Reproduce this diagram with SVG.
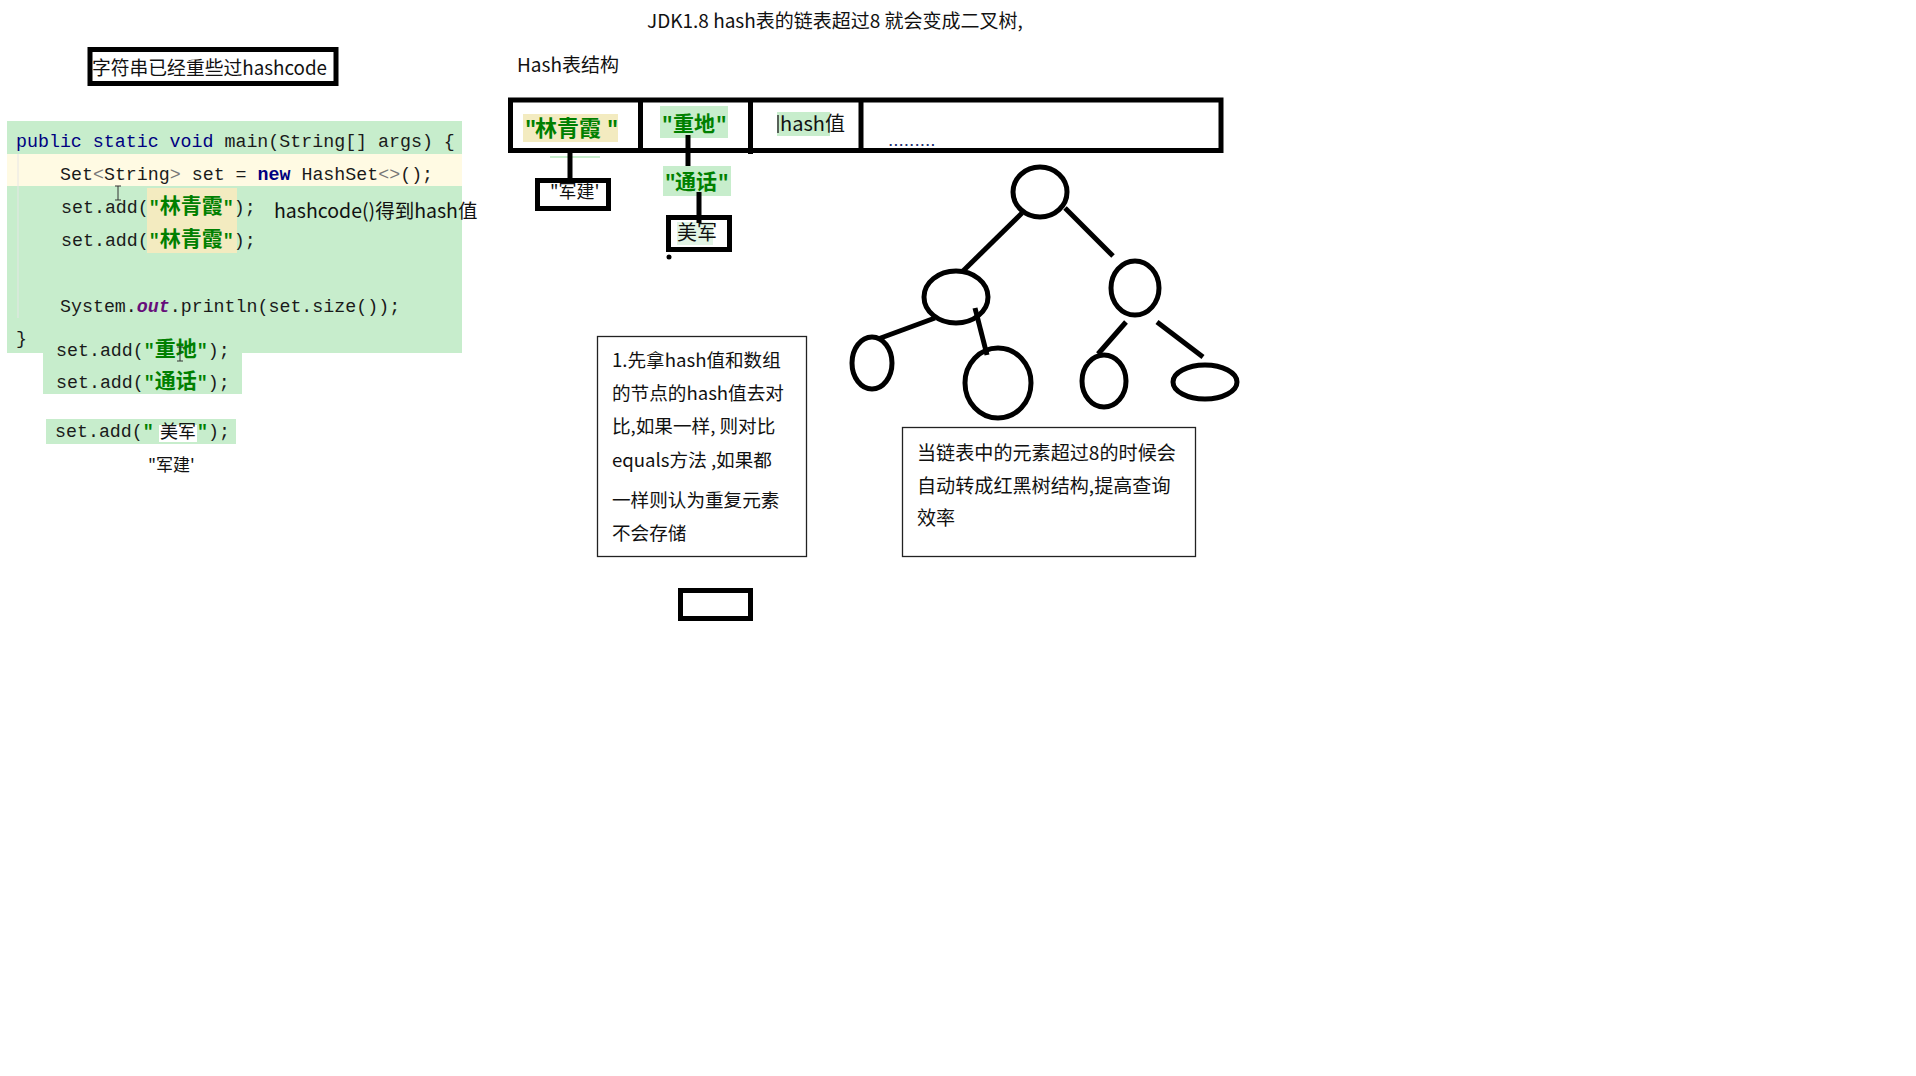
<svg xmlns="http://www.w3.org/2000/svg" width="1916" height="1076" viewBox="0 0 1916 1076">
<style>
.ui{font-family:'Noto Sans CJK SC','Liberation Sans',sans-serif;fill:#111}
.code{font-family:'Liberation Mono','Noto Sans CJK SC',monospace;font-size:18.3px;fill:#1a1a1a}
.kw{fill:#000080}
.kwb{fill:#000080;font-weight:bold}
.str{fill:#008000;font-weight:bold}
.cjk{font-family:'Noto Sans CJK SC',sans-serif;font-size:21px}
.thick{fill:none;stroke:#000;stroke-width:5}
.thin{fill:none;stroke:#222;stroke-width:1.3}
.tree{fill:none;stroke:#000;stroke-width:5}
.gbg{fill:#C7EDCC}
</style>
<rect width="1916" height="1076" fill="#fff"/>

<g id="title">
<text class="ui" x="647" y="28" font-size="19">JDK1.8 hash表的链表超过8 就会变成二叉树,</text>
</g>
<g id="hash-title">
<text class="ui" x="517" y="72" font-size="19">Hash表结构</text>
</g>

<g id="note-hashcode">
<rect class="thick" x="90" y="49.5" width="246" height="34" stroke-width="4.5"/>
<text class="ui" x="92" y="75" font-size="18.8">字符串已经重些过hashcode</text>
</g>

<g id="code">
<rect class="gbg" x="7" y="121" width="455" height="232"/>
<rect fill="#FFFAE3" x="7" y="154" width="455" height="32"/>
<rect class="gbg" x="43" y="353" width="199" height="41"/>
<rect fill="#F3EBC0" x="147" y="188" width="90" height="65"/>
<line x1="18" y1="154" x2="18" y2="318" stroke="#e6e6e6" stroke-width="1"/>
<text class="code" x="16" y="147"><tspan class="kw">public static void</tspan> main(String[] args) {</text>
<text class="code" x="60" y="180">Set<tspan fill="#777">&lt;</tspan>String<tspan fill="#777">&gt;</tspan> set = <tspan class="kwb">new</tspan> HashSet<tspan fill="#777">&lt;&gt;</tspan>();</text>
<text class="code" x="61" y="213">set.add(<tspan class="str">"</tspan><tspan class="str cjk">林青霞</tspan><tspan class="str">"</tspan>);</text>
<text class="code" x="61" y="246">set.add(<tspan class="str">"</tspan><tspan class="str cjk">林青霞</tspan><tspan class="str">"</tspan>);</text>
<text class="code" x="60" y="312">System.<tspan fill="#660E7A" font-style="italic" font-weight="bold">out</tspan>.println(set.size());</text>
<text class="code" x="16" y="344">}</text>
<text class="code" x="56" y="356">set.add(<tspan class="str">"</tspan><tspan class="str cjk">重地</tspan><tspan class="str">"</tspan>);</text>
<text class="code" x="56" y="388">set.add(<tspan class="str">"</tspan><tspan class="str cjk">通话</tspan><tspan class="str">"</tspan>);</text>
<rect class="gbg" x="46" y="419" width="190" height="25"/>
<rect fill="#fff" x="159" y="425" width="38" height="17"/>
<text class="code" x="55" y="437">set.add(<tspan class="str">"</tspan></text>
<text class="ui" x="160" y="438" font-size="18">美军</text>
<text class="code" x="197" y="437"><tspan class="str">"</tspan>);</text>
<text class="ui" x="148" y="471" font-size="17">"军建'</text>
<path d="M115 186h6M118 186v14M115 200h6" stroke="#333" stroke-width="1" fill="none"/>
<path d="M177 347h6M180 347v14M177 361h6" stroke="#333" stroke-width="1" fill="none"/>
</g>

<g id="label-hashcode">
<text class="ui" x="274" y="218" font-size="19.5">hashcode()得到hash值</text>
<line x1="408" y1="203" x2="408" y2="219" stroke="#333" stroke-width="1"/>
</g>

<g id="hash-table">
<rect class="thick" x="510.5" y="100" width="710.5" height="50.5"/>
<line class="thick" x1="640.5" y1="100" x2="640.5" y2="152"/>
<line class="thick" x1="750.5" y1="100" x2="750.5" y2="154"/>
<line class="thick" x1="861" y1="100" x2="861" y2="150"/>
</g>
<g id="cell-linqingxia">
<rect fill="#F3EBC0" x="523" y="114" width="95" height="28"/>
<text class="ui str" font-size="22" y="136"><tspan x="524" font-family="'Liberation Mono',monospace">"</tspan><tspan x="535">林青霞</tspan><tspan x="606" font-family="'Liberation Mono',monospace">"</tspan></text>
</g>
<g id="cell-zhongdi">
<rect class="gbg" x="660" y="106" width="68" height="32"/>
<text class="ui str" font-size="21" y="131"><tspan x="661" font-family="'Liberation Mono',monospace">"</tspan><tspan x="673">重地</tspan><tspan x="715" font-family="'Liberation Mono',monospace">"</tspan></text>
</g>
<g id="cell-hash">
<rect class="gbg" x="777" y="112" width="53" height="24"/>
<line x1="778" y1="115" x2="778" y2="133" stroke="#333" stroke-width="1.5"/>
<text class="ui" x="780" y="131" font-size="20">hash值</text>
</g>
<g id="cell-more">
<text x="888" y="146" font-family="'Liberation Sans',sans-serif" font-size="19" fill="#203070">.........</text>
</g>
<g id="node-junjian">
<rect fill="#fff" class="thick" x="537.5" y="180.5" width="71" height="28"/>
<text class="ui" x="550" y="198" font-size="18">"军建'</text>
</g>
<g id="node-tonghua">
<rect class="gbg" x="663" y="166" width="68" height="30"/>
<text class="ui str" font-size="21" y="189"><tspan x="664" font-family="'Liberation Mono',monospace">"</tspan><tspan x="675">通话</tspan><tspan x="717" font-family="'Liberation Mono',monospace">"</tspan></text>
</g>
<g id="node-meijun">
<rect fill="#fff" class="thick" x="668.5" y="217.5" width="61" height="32"/>
<rect fill="#e2f4e5" x="677" y="222" width="36" height="23"/>
<text class="ui" x="677" y="240" font-size="20">美军</text>
</g>

<g id="connectors">
<rect fill="#C7EDCC" x="550" y="156" width="50" height="2"/>
<line class="thick" x1="570" y1="153" x2="570" y2="180"/>
<line class="thick" x1="688" y1="135" x2="688" y2="166"/>
<line class="thick" x1="699" y1="192" x2="699" y2="223"/>
<circle cx="669" cy="257" r="2.5" fill="#000"/>
<line class="tree" x1="1022" y1="213" x2="962" y2="272"/>
<line class="tree" x1="1065" y1="208" x2="1113" y2="256"/>
<line class="tree" x1="935" y1="318" x2="878" y2="339"/>
<line class="tree" x1="975" y1="308" x2="987" y2="355"/>
<line class="tree" x1="1126" y1="322" x2="1098" y2="354"/>
<line class="tree" x1="1157" y1="322" x2="1203" y2="357"/>
</g>

<g id="tree-root"><ellipse class="tree" cx="1040" cy="192" rx="27" ry="25"/></g>
<g id="tree-left"><ellipse class="tree" cx="956" cy="297" rx="32" ry="26"/></g>
<g id="tree-right"><ellipse class="tree" cx="1135" cy="288" rx="24" ry="27"/></g>
<g id="tree-ll"><ellipse class="tree" cx="872" cy="363" rx="20" ry="26"/></g>
<g id="tree-lr"><ellipse class="tree" cx="998" cy="383" rx="33" ry="35"/></g>
<g id="tree-rl"><ellipse class="tree" cx="1104" cy="381" rx="22" ry="26"/></g>
<g id="tree-rr"><ellipse class="tree" cx="1205" cy="382" rx="32" ry="17"/></g>

<g id="box-compare">
<rect class="thin" x="597.5" y="336.5" width="209" height="220"/>
<text class="ui" font-size="18.6">
<tspan x="612" y="367">1.先拿hash值和数组</tspan>
<tspan x="612" y="400">的节点的hash值去对</tspan>
<tspan x="612" y="433">比,如果一样, 则对比</tspan>
<tspan x="612" y="467">equals方法 ,如果都</tspan>
<tspan x="612" y="507">一样则认为重复元素</tspan>
<tspan x="612" y="540">不会存储</tspan>
</text>
</g>
<g id="box-tree">
<rect class="thin" x="902.5" y="427.5" width="293" height="129"/>
<text class="ui" font-size="19.1">
<tspan x="917" y="460">当链表中的元素超过8的时候会</tspan>
<tspan x="917" y="493">自动转成红黑树结构,提高查询</tspan>
<tspan x="917" y="525">效率</tspan>
</text>
</g>
<g id="small-rect">
<rect class="thick" x="680.5" y="590.5" width="70" height="28"/>
</g>
</svg>
